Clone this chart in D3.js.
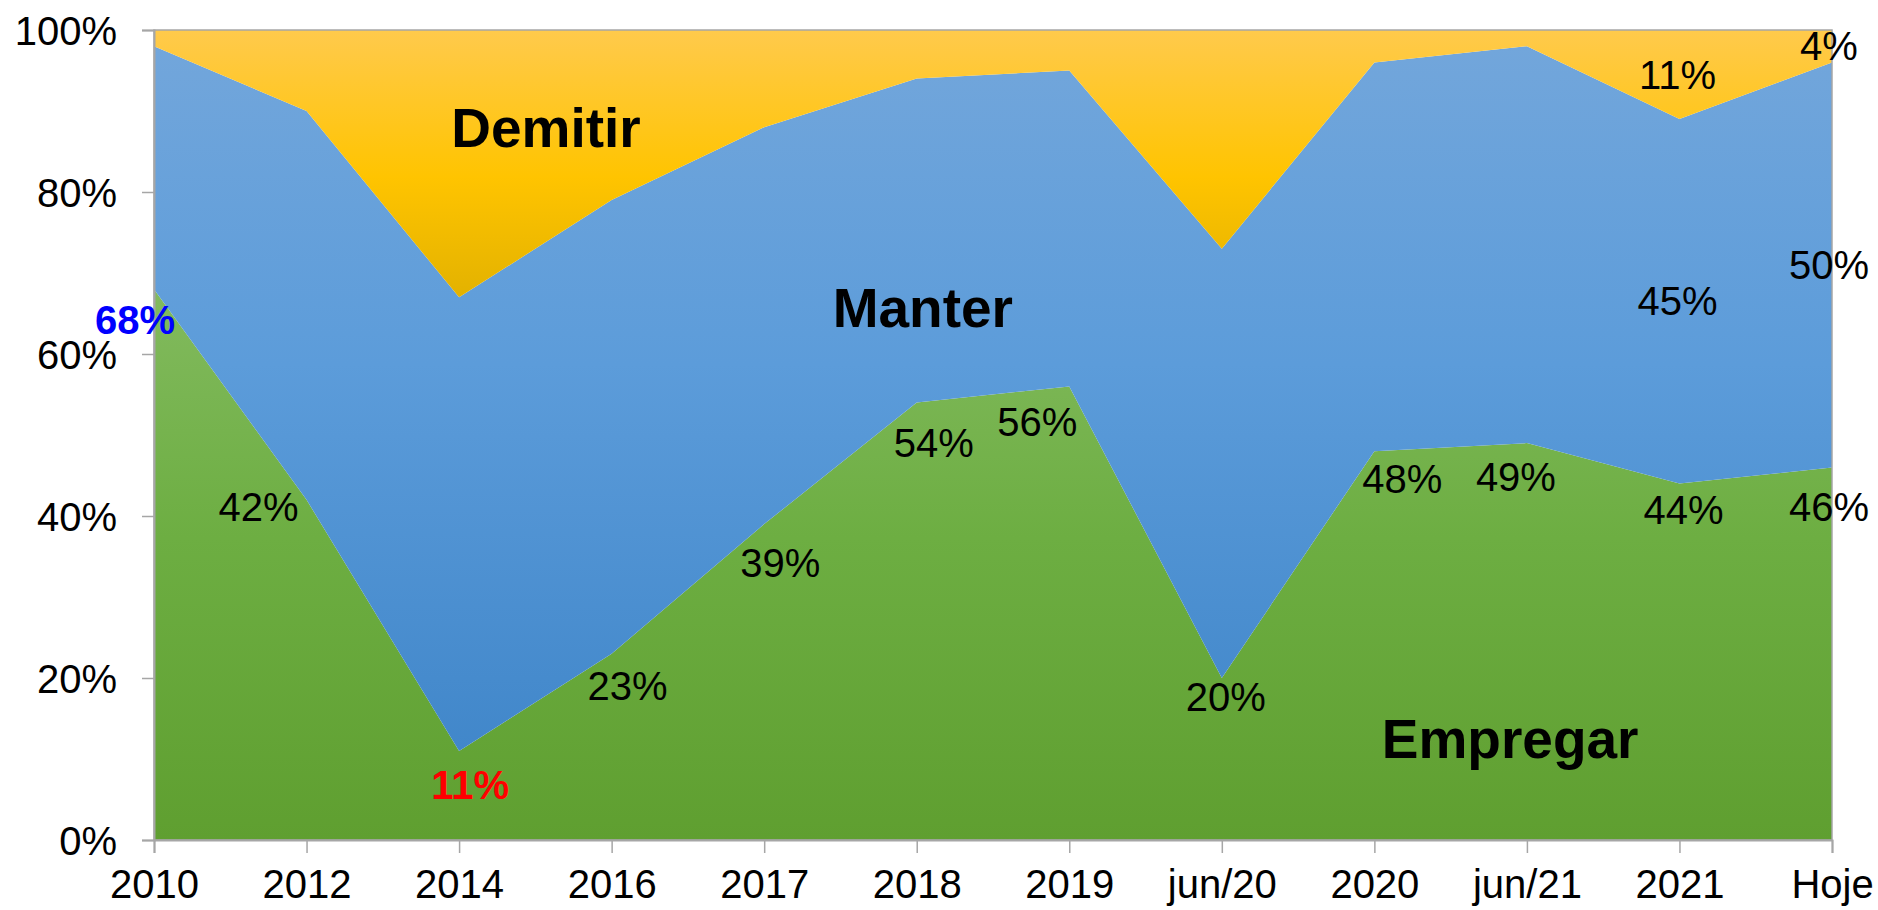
<!DOCTYPE html>
<html><head><meta charset="utf-8">
<script src="https://cdn.jsdelivr.net/npm/d3@7"></script>
<style>
html,body{margin:0;padding:0;background:#fff;}
svg{display:block;font-family:"Liberation Sans",Arial,sans-serif;}
</style></head>
<body><svg id="chart" width="1878" height="910"></svg>
<script>
// ---- data ----
const categories = ["2010","2012","2014","2016","2017","2018","2019","jun/20","2020","jun/21","2021","Hoje"];
const empregar = [68,42,11,23,39,54,56,20,48,49,44,46];
const manter   = [30,48,56,56,49,40,39,53,48,49,45,50];
const demitir  = [2,10,33,21,12,6,5,27,4,2,11,4];
const yTicks = [0,20,40,60,80,100];
const seriesNames = ["Empregar","Manter","Demitir"];

// ---- layout ----
const W = 1878, H = 910;
const m = {left:154, right:46, top:30, bottom:70};
const svg = d3.select("#chart");
const x = d3.scalePoint().domain(categories).range([m.left, W - m.right]);
const y = d3.scaleLinear().domain([0,100]).range([H - m.bottom, m.top]);

const rows = categories.map((c,i)=>({cat:c, Empregar:empregar[i], Manter:manter[i], Demitir:demitir[i]}));
const stack = d3.stack().keys(seriesNames).order(d3.stackOrderNone).offset(d3.stackOffsetNone);
const layers = stack(rows);

// gradients
const defs = svg.append("defs");
const grads = {
  Empregar:[["0%","#82BA5E"],["45%","#6DAE42"],["100%","#5F9F30"]],
  Manter:[["0%","#72A6DB"],["45%","#5C9CDA"],["100%","#4187CA"]],
  Demitir:[["0%","#FFCA4C"],["55%","#FFC400"],["100%","#E3B200"]]
};
Object.entries(grads).forEach(([k,stops])=>{
  const g = defs.append("linearGradient").attr("id","g"+k).attr("x1",0).attr("y1",0).attr("x2",0).attr("y2",1);
  stops.forEach(s=>g.append("stop").attr("offset",s[0]).attr("stop-color",s[1]));
});

const area = d3.area().x(d=>x(d.data.cat)).y0(d=>y(d[0])).y1(d=>y(d[1]));
svg.append("g").selectAll("path").data(layers).join("path")
  .attr("d",area).attr("fill",d=>`url(#g${d.key})`);

// plot border
svg.append("rect").attr("x",m.left).attr("y",m.top)
  .attr("width",W-m.right-m.left).attr("height",H-m.bottom-m.top)
  .attr("fill","none").attr("stroke","#A6A6A6").attr("stroke-width",1.5);

// axes
const yAxis = svg.append("g").attr("transform",`translate(${m.left},0)`)
  .call(d3.axisLeft(y).tickValues(yTicks).tickFormat(d=>d+"%").tickSize(12).tickPadding(25));
const xAxis = svg.append("g").attr("transform",`translate(0,${H-m.bottom})`)
  .call(d3.axisBottom(x).tickSize(13).tickPadding(17));
[yAxis,xAxis].forEach(a=>{
  a.select(".domain").attr("stroke","#A6A6A6").attr("stroke-width",2);
  a.selectAll(".tick line").attr("stroke","#A6A6A6").attr("stroke-width",1.5);
  a.selectAll("text").attr("fill","#000").style("font-size","40px").style("font-family","'Liberation Sans',Arial,sans-serif");
});
yAxis.selectAll("text").attr("dy","0.36em");
xAxis.selectAll("text").attr("dy","0.71em");

// ---- labels ----
const empLabelOffsets = [[-19,31],[-48,7],[11,34],[16,32],[16,39],[17,40],[-32,36],[4,19],[28,28],[-11,34],[4,26],[-3,40]];
const empLabelStyle = {0:{fill:"#0000FF",weight:"bold"},2:{fill:"#FF0000",weight:"bold"}};
const lbl = svg.append("g").style("font-size","40px").attr("text-anchor","middle");
empregar.forEach((v,i)=>{
  const st = empLabelStyle[i] || {fill:"#000",weight:"normal"};
  lbl.append("text").attr("x",x(categories[i])+empLabelOffsets[i][0])
    .attr("y",y(v)+empLabelOffsets[i][1]).attr("dy","0.35em")
    .attr("fill",st.fill).attr("font-weight",st.weight).text(v+"%");
});
// Manter and Demitir labels for the last two points, centred in their bands
const bandLabelIdx = [10,11];
const bandOffsets = [-2,-3];
bandLabelIdx.forEach((i,j)=>{
  const mid = layers[1][i];
  lbl.append("text").attr("x",x(categories[i])+bandOffsets[j]).attr("y",y((mid[0]+mid[1])/2)).attr("dy","0.35em")
    .attr("fill","#000").text(manter[i]+"%");
  const top = layers[2][i];
  lbl.append("text").attr("x",x(categories[i])+bandOffsets[j]).attr("y",y((top[0]+top[1])/2)).attr("dy","0.35em")
    .attr("fill","#000").text(demitir[i]+"%");
});

// series names (position in category-index / value space)
const nameAt = {Demitir:[2.57,87.9],Manter:[5.04,65.7],Empregar:[8.89,12.5]};
const step = x.step();
Object.entries(nameAt).forEach(([k,p])=>{
  svg.append("text").attr("x",m.left + p[0]*step).attr("y",y(p[1])).attr("dy","0.35em")
    .attr("text-anchor","middle").style("font-size","55px").attr("font-weight","bold")
    .attr("fill","#000").text(k);
});
</script></body></html>
